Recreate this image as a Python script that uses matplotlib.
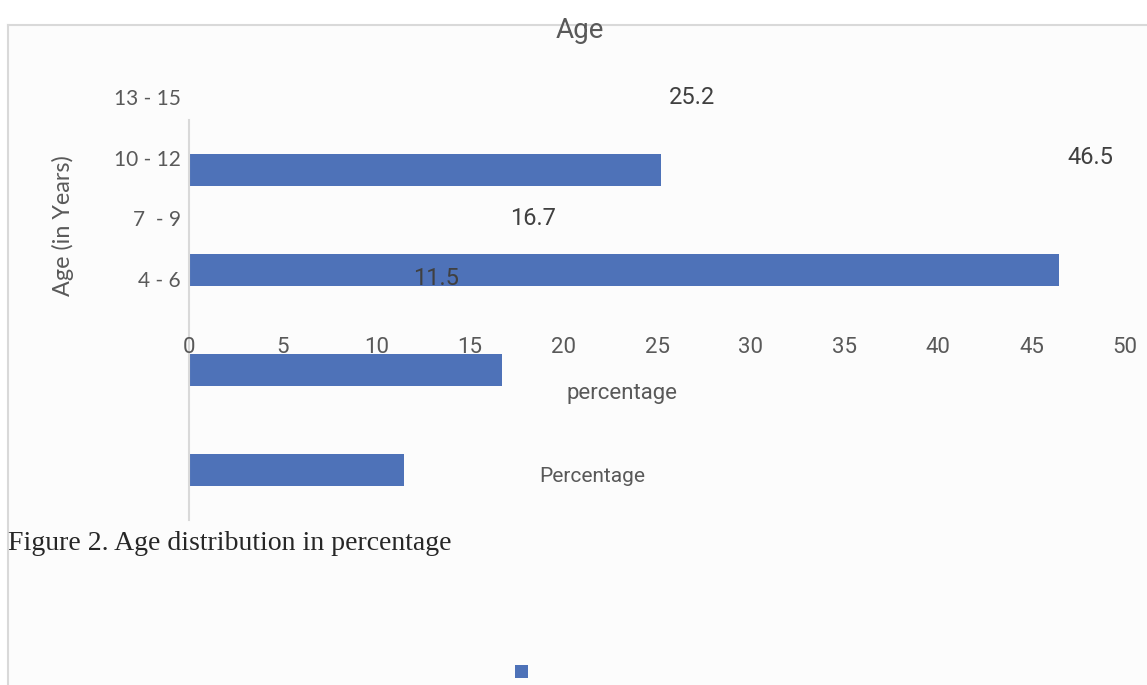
import matplotlib
matplotlib.use('Agg')
import matplotlib.pyplot as plt
from matplotlib.patches import Rectangle
from matplotlib.lines import Line2D

# data (bottom category first)
age_groups = ['4 - 6', '7  - 9', '10 - 12', '13 - 15']
percentages = [11.5, 16.7, 46.5, 25.2]
x_ticks = [0, 5, 10, 15, 20, 25, 30, 35, 40, 45, 50]

W, H = 1147, 685
fig = plt.figure(figsize=(W / 100, H / 100), dpi=100)
fig.patch.set_facecolor('white')

narrow = ['Liberation Sans Narrow', 'Roboto', 'DejaVu Sans']
gray = '#595959'
blue = '#4e72b8'

def fx(px):
    return px / W

def fy(py):
    return 1 - py / H

# chart area background and frame
fig.patches.append(Rectangle((fx(8), 0), 1, fy(24), transform=fig.transFigure,
                             facecolor='#fcfcfc', edgecolor='none', zorder=-5))
fig.lines.append(Line2D([fx(8), 1], [fy(25), fy(25)], transform=fig.transFigure,
                        color='#d9d9d9', lw=1.5, zorder=-4))
fig.lines.append(Line2D([fx(8), fx(8)], [0, fy(25)], transform=fig.transFigure,
                        color='#d9d9d9', lw=1.5, zorder=-4))

# axes holding the bars
ax = fig.add_axes([fx(189), fy(520), fx(1125) - fx(189), fy(120) - fy(520)])
ax.patch.set_alpha(0)
ax.barh(range(len(age_groups)), percentages, height=0.32, color=blue)
ax.set_xlim(0, 50)
ax.set_ylim(-0.5, 3.5)
for s in ['top', 'right', 'bottom']:
    ax.spines[s].set_visible(False)
ax.spines['left'].set_color('#d9d9d9')
ax.spines['left'].set_linewidth(1.5)
ax.set_xticks([])
ax.set_yticks([])

# axes holding the labels (shifted from the bars)
lab = fig.add_axes([fx(189), fy(309), fx(1125) - fx(189), fy(67) - fy(309)])
lab.patch.set_alpha(0)
lab.set_xlim(0, 50)
lab.set_ylim(-0.5, 3.5)
for s in lab.spines.values():
    s.set_visible(False)
lab.set_yticks(range(len(age_groups)))
lab.set_yticklabels(age_groups, family=['Lato', 'DejaVu Sans'], fontsize=15, color=gray)
lab.set_xticks(x_ticks)
lab.set_xticklabels([str(t) for t in x_ticks], family=narrow, fontsize=16, color=gray)
lab.tick_params(axis='y', length=0, pad=6)
lab.tick_params(axis='x', length=0, pad=20)
lab.set_xlabel('percentage', family=narrow, fontsize=16, color=gray, labelpad=16)
lab.xaxis.set_label_coords((622 - 189) / 936, -(393 - 309) / 242)
lab.xaxis.label.set_va('center')
lab.set_ylabel('Age (in Years)', family=['Lato', 'DejaVu Sans'], fontsize=16.8, color=gray)
lab.yaxis.set_label_coords(-(189 - 63) / 936, (309 - 226) / 242)
lab.yaxis.label.set_va('center')
for i, v in enumerate(percentages):
    lab.annotate(f'{v}', (v, i), xytext=(6, 0), textcoords='offset points',
                 ha='left', va='center', family=narrow, fontsize=17, color='#404040')

fig.text(fx(580), fy(30), 'Age', ha='center', va='center', family=narrow, fontsize=20, color=gray)
fig.text(fx(592), fy(477), 'Percentage', ha='center', va='center', family=narrow, fontsize=15, color=gray)
fig.patches.append(Rectangle((fx(515), fy(678)), fx(13), 13 / H, transform=fig.transFigure,
                             facecolor=blue, edgecolor='none'))
fig.text(fx(8), fy(543), 'Figure 2. Age distribution in percentage', ha='left', va='center',
         family=['Liberation Serif', 'DejaVu Serif'], fontsize=20, color='#262626')

fig.savefig('out.png', dpi=100)
